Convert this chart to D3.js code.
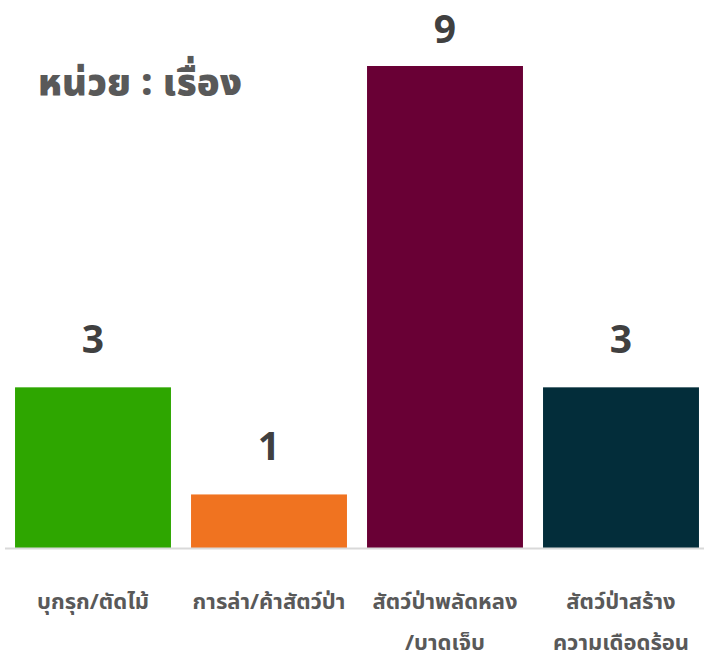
<!DOCTYPE html>
<html>
<head>
<meta charset="utf-8">
<script src="https://cdn.jsdelivr.net/npm/d3@7"></script>
<style>
  body { margin: 0; background: #fff; }
  text { font-family: 'Noto Sans Thai', 'Noto Sans', sans-serif; font-weight: bold; }
</style>
</head>
<body>
<div id="chart"></div>
<script>
// chart data
const categories = [
  ['บุกรุก/ตัดไม้'],
  ['การล่า/ค้าสัตว์ป่า'],
  ['สัตว์ป่าพลัดหลง', '/บาดเจ็บ'],
  ['สัตว์ป่าสร้าง', 'ความเดือดร้อน']
];
const values = [3, 1, 9, 3];
const colors = ['#2ea600', '#f07320', '#690035', '#032d3a'];
const unitLabel = 'หน่วย : เรื่อง';

const width = 704, height = 662;
const baseY = 548, topY = 66;

const svg = d3.select('#chart').append('svg')
  .attr('width', width)
  .attr('height', height);

const x = d3.scaleBand()
  .domain(d3.range(values.length))
  .range([5, 709])
  .paddingInner(0.114)
  .paddingOuter(0.057);

const y = d3.scaleLinear()
  .domain([0, 9])
  .range([baseY, topY]);

// bars
svg.selectAll('.bar')
  .data(values)
  .enter().append('rect')
  .attr('class', 'bar')
  .attr('x', (d, i) => x(i))
  .attr('y', d => y(d))
  .attr('width', x.bandwidth())
  .attr('height', d => baseY - y(d))
  .attr('fill', (d, i) => colors[i]);

// baseline
svg.append('line')
  .attr('x1', 5).attr('x2', width)
  .attr('y1', baseY + 0.5).attr('y2', baseY + 0.5)
  .attr('stroke', '#d9d9d9')
  .attr('stroke-width', 2);

// value labels
svg.selectAll('.val')
  .data(values)
  .enter().append('text')
  .attr('class', 'val')
  .attr('x', (d, i) => x(i) + x.bandwidth() / 2)
  .attr('y', d => Math.max(y(d) - 34, 43))
  .attr('text-anchor', 'middle')
  .attr('fill', '#404040')
  .style('font-size', '39px')
  .text(d => d);

// category labels
const cat = svg.selectAll('.cat')
  .data(categories)
  .enter().append('text')
  .attr('class', 'cat')
  .attr('x', (d, i) => x(i) + x.bandwidth() / 2)
  .attr('y', 609)
  .attr('text-anchor', 'middle')
  .attr('fill', '#595959')
  .style('font-size', '22px');

cat.selectAll('tspan')
  .data(d => d)
  .enter().append('tspan')
  .attr('x', function () { return d3.select(this.parentNode).attr('x'); })
  .attr('dy', (d, i) => i === 0 ? 0 : 41)
  .text(d => d);

// unit label
svg.append('text')
  .attr('x', 38)
  .attr('y', 95)
  .attr('fill', '#595959')
  .style('font-size', '37px')
  .style('font-weight', '900')
  .style('letter-spacing', '0.5px')
  .text(unitLabel);
</script>
</body>
</html>
